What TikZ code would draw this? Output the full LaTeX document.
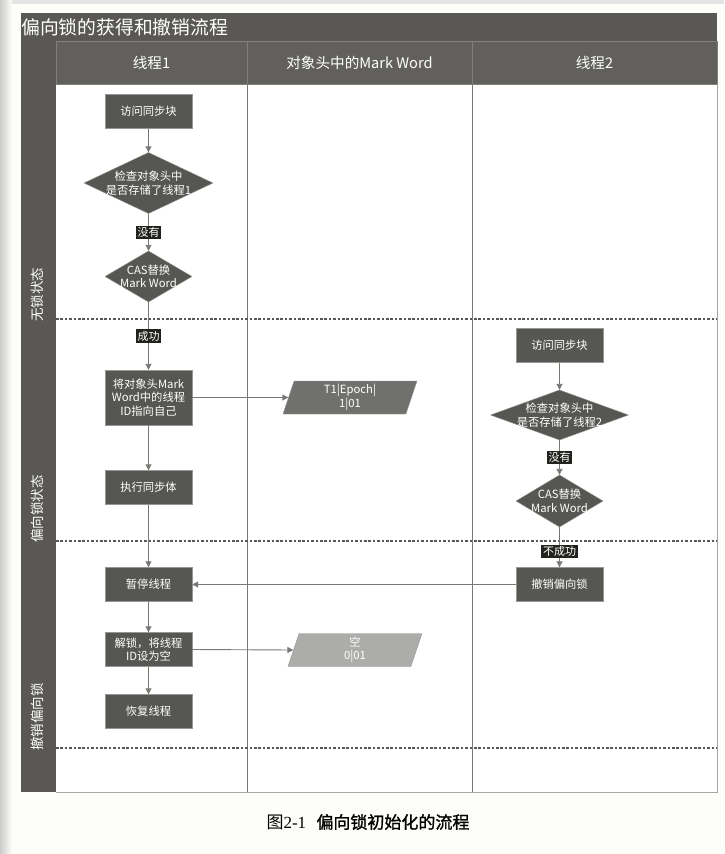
\documentclass[tikz,border=0pt]{standalone}
\usepackage{fontspec}
\setmainfont{Noto Sans CJK SC}
\newfontfamily\capserif{Liberation Serif}
\newfontfamily\capfont[FakeBold=1.3]{Noto Sans CJK SC}
\usetikzlibrary{positioning,shapes.geometric,arrows.meta}

\definecolor{pagewhite}{RGB}{253,253,249}
\definecolor{framedark}{RGB}{89,88,84}
\definecolor{headcell}{RGB}{97,96,92}
\definecolor{headline}{RGB}{128,127,123}
\definecolor{boxdark}{RGB}{86,86,83}
\definecolor{boxline}{RGB}{150,150,147}
\definecolor{biasgray}{RGB}{112,112,110}
\definecolor{emptygray}{RGB}{172,172,170}
\definecolor{tagblack}{RGB}{34,34,31}
\definecolor{linegray}{RGB}{120,120,118}

\newcommand{\boxfont}{\fontsize{11.3}{13.5}\selectfont}

\tikzset{
	box/.style={draw=boxline, fill=boxdark, text=white, align=center, font=\boxfont, minimum width=87pt, minimum height=34pt, inner sep=1pt},
	check/.style={inner sep=0pt, text=white, align=center, font=\boxfont,
		path picture={\draw[boxline, fill=boxdark] (path picture bounding box.north) -- (path picture bounding box.east) -- (path picture bounding box.south) -- (path picture bounding box.west) -- cycle;}},
	data/.style={trapezium, trapezium left angle=67, trapezium right angle=113, trapezium stretches body, draw=boxline, text=white, align=center, font=\boxfont, minimum width=134pt, minimum height=33pt, inner sep=0pt},
	tag/.style={fill=tagblack, text=white, inner sep=1.6pt, font=\fontsize{11}{12}\selectfont},
	flow/.style={draw=linegray, line width=0.9pt, -{Triangle[length=6pt,width=6pt]}},
	lanesep/.style={draw=framedark, line width=1.6pt, dash pattern=on 2.6pt off 1.8pt},
	lanename/.style={rotate=90, anchor=west, inner sep=0pt, text=white, font=\fontsize{13.5}{15}\selectfont},
	headtext/.style={text=white, font=\fontsize{14.6}{16}\selectfont}
}

\begin{document}
\begin{tikzpicture}[x=1pt,y=-1pt]
	\useasboundingbox (0,0) rectangle (724,854);
	\fill[pagewhite] (0,0) rectangle (724,854);
	\shade[left color=gray!40, right color=pagewhite] (0,0) rectangle (12,854);
	\fill[gray!22] (12,0) rectangle (724,4);

	% frame, title bar and lanes
	\fill[framedark] (21,13) rectangle (717,792);
	\fill[white] (56,84) rectangle (717,792);
	\draw[headline, fill=headcell] (56,41) rectangle (247,84);
	\draw[headline, fill=headcell] (247,41) rectangle (472,84);
	\draw[headline, fill=headcell] (472,41) rectangle (717,84);
	\draw[linegray] (247,84) -- (247,792);
	\draw[linegray] (472,84) -- (472,792);
	\draw[gray!70] (717,84) -- (717,792) -- (56,792);
	\draw[lanesep] (56,319) -- (717,319);
	\draw[lanesep] (56,541) -- (717,541);
	\draw[lanesep] (56,748) -- (717,748);

	\node[anchor=west, inner sep=0pt, text=white, font=\fontsize{18.8}{20}\selectfont] (title) at (21,27) {偏向锁的获得和撤销流程};
	\node[headtext] (hdthread1) at (151.5,63) {线程1};
	\node[headtext] (hdmark) at (359.5,63) {对象头中的Mark Word};
	\node[headtext] (hdthread2) at (594.5,63) {线程2};
	\node[lanename] (lanefree) at (37,322) {无锁状态};
	\node[lanename] (lanebias) at (37,543) {偏向锁状态};
	\node[lanename] (lanerevoke) at (37,751) {撤销偏向锁};

	% thread 1
	\node[box] (t1visit) at (148.5,111.5) {访问同步块};
	\node[check, minimum width=129pt, minimum height=61pt] (t1check) at (148.5,183) {检查对象头中\\是否存储了线程1};
	\node[check, minimum width=87pt, minimum height=51pt] (t1cas) at (148.5,276.5) {CAS替换\\Mark Word};
	\node[box, minimum height=55pt] (t1set) at (148.5,397.5) {将对象头Mark\\Word中的线程\\ID指向自己};
	\node[box] (t1run) at (148.5,487.5) {执行同步体};
	\node[box] (t1pause) at (148.5,584.5) {暂停线程};
	\node[box] (t1unlock) at (148.5,649.5) {解锁，将线程\\ID设为空};
	\node[box] (t1resume) at (148.5,711.5) {恢复线程};

	% mark word
	\node[data, fill=biasgray] (mwbias) at (350,397.5) {T1|Epoch|\\1|01};
	\node[data, fill=emptygray] (mwempty) at (355,650) {空\\0|01};

	% thread 2
	\node[box] (t2visit) at (559.5,345.5) {访问同步块};
	\node[check, minimum width=138pt, minimum height=50pt] (t2check) at (559.5,415) {检查对象头中\\是否存储了线程2};
	\node[check, minimum width=87pt, minimum height=52pt] (t2cas) at (559.5,501) {CAS替换\\Mark Word};
	\node[box] (t2revoke) at (559.5,584.5) {撤销偏向锁};

	\draw[flow] (t1visit) -- (t1check);
	\draw[flow] (t1check) -- node[tag] {没有} (t1cas);
	\draw[flow] (t1cas) -- node[tag] {成功} (t1set);
	\draw[flow] (t1set) -- (t1run);
	\draw[flow] (t1run) -- (t1pause);
	\draw[flow] (t1pause) -- (t1unlock);
	\draw[flow] (t1unlock) -- (t1resume);
	\draw[flow] (t1set.east) -- (mwbias.west);
	\draw[flow] (t1unlock.east) -- (mwempty.west);
	\draw[flow] (t2visit) -- (t2check);
	\draw[flow] (t2check) -- node[tag] {没有} (t2cas);
	\draw[flow] (t2cas) -- node[tag, pos=0.6] {不成功} (t2revoke);
	\draw[flow] (t2revoke.west) -- (t1pause.east);

	\node[font=\fontsize{17}{19}\selectfont] (caption) at (368,822) {图{\capserif 2-1}\hspace{0.6em}{\capfont 偏向锁初始化的流程}};
\end{tikzpicture}
\end{document}
